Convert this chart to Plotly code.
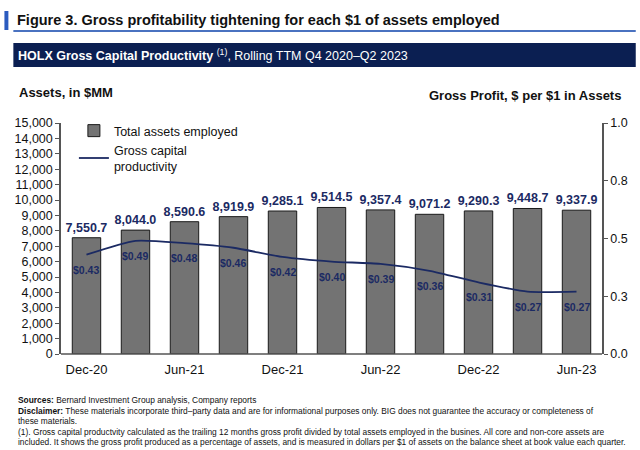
import plotly.graph_objects as go

categories = ["Dec-20", "Mar-21", "Jun-21", "Sep-21", "Dec-21", "Mar-22",
              "Jun-22", "Sep-22", "Dec-22", "Mar-23", "Jun-23"]
assets = [7550.7, 8044.0, 8590.6, 8919.9, 9285.1, 9514.5,
          9357.4, 9071.2, 9290.3, 9448.7, 9337.9]
productivity = [0.43, 0.49, 0.48, 0.46, 0.42, 0.40, 0.39, 0.36, 0.31, 0.27, 0.27]
x_tick_cats = ["Dec-20", "Jun-21", "Dec-21", "Jun-22", "Dec-22", "Jun-23"]
left_ticks = list(range(0, 15001, 1000))
right_tickvals = [0, 0.25, 0.5, 0.75, 1.0]
right_ticktext = ["0.0", "0.3", "0.5", "0.8", "1.0"]

W, H = 640, 450
L, R, T, B = 61, 606, 123, 354
NAVY = "#1B2A63"
FONT = "Liberation Sans, Arial, sans-serif"


def px(x):
    return (x - L) / (R - L)


def py(y):
    return (B - y) / (B - T)


fig = go.Figure()
fig.add_trace(go.Bar(
    x=categories, y=assets, name="Total assets employed",
    marker=dict(color="#737373", line=dict(color="#1a1a1a", width=1)),
    width=0.58,
    text=[f"{v:,.1f}" for v in assets], textposition="outside",
    constraintext="none",
    textfont=dict(color=NAVY, size=12.5, family=FONT, weight="bold"),
    cliponaxis=False,
))
fig.add_trace(go.Scatter(
    x=categories, y=productivity, name="Gross capital<br>productivity",
    yaxis="y2", mode="lines",
    line=dict(color=NAVY, width=1.8, shape="spline", smoothing=0.6),
))

shapes = [
    dict(type="rect", xref="paper", yref="paper", x0=px(4), x1=px(8), y0=py(30), y1=py(11),
         fillcolor="#2B5BBF", line=dict(width=0)),
    dict(type="line", xref="paper", yref="paper", x0=px(13), x1=px(640), y0=py(31), y1=py(31),
         line=dict(color="#4A72C0", width=2)),
    dict(type="rect", xref="paper", yref="paper", x0=px(13), x1=px(640), y0=py(67), y1=py(43),
         fillcolor="#0B1F52", line=dict(width=0)),
    dict(type="line", xref="paper", yref="paper", x0=0, x1=1, y0=0, y1=0,
         line=dict(color="#555", width=1.5)),
]

ann = [
    dict(text="<b>Figure 3. Gross profitability tightening for each $1 of assets employed</b>",
         x=px(15), y=py(20), xanchor="left", yanchor="middle", font=dict(size=14.5, color="#111")),
    dict(text="<b>HOLX Gross Capital Productivity</b> <sup>(1)</sup>, Rolling TTM Q4 2020\u2013Q2 2023",
         x=px(16), y=py(55), xanchor="left", yanchor="middle", font=dict(size=12.5, color="white")),
    dict(text="<b>Assets, in $MM</b>", x=px(17), y=py(93), xanchor="left", yanchor="middle",
         font=dict(size=13, color="#111")),
    dict(text="<b>Gross Profit, $ per $1 in Assets</b>", x=px(627), y=py(95), xanchor="right",
         yanchor="middle", font=dict(size=13, color="#111")),
]
footer = [
    (400, "<b>Sources:</b> Bernard Investment Group analysis, Company reports"),
    (411, "<b>Disclaimer:</b> These materials incorporate third\u2013party data and are for informational purposes only. BIG does not guarantee the accuracy or completeness of"),
    (421, "these materials."),
    (432, "(1). Gross capital productvity calculated as the trailing 12 months gross profit divided by total assets employed in the busines. All core and non-core assets are"),
    (442, "included. It shows the gross profit produced as a percentage of assets, and is measured in dollars per $1 of assets on the balance sheet at book value each quarter."),
]
for y, t in footer:
    ann.append(dict(text=t, x=px(16), y=py(y), xanchor="left", yanchor="middle",
                    font=dict(size=8.4, color="#111")))
for a in ann:
    a.update(xref="paper", yref="paper", showarrow=False)

for c, v in zip(categories, productivity):
    ann.append(dict(text=f"<b>${v:.2f}</b>", x=c, y=v, xref="x", yref="y2", showarrow=False,
                    yshift=-15, font=dict(size=10.5, color=NAVY)))

fig.update_layout(
    width=W, height=H,
    margin=dict(l=L, r=W - R, t=T, b=H - B),
    paper_bgcolor="white", plot_bgcolor="white",
    font=dict(family=FONT, color="#111", size=12),
    showlegend=True,
    legend=dict(x=px(74), y=py(116), xanchor="left", yanchor="top",
                font=dict(size=12.5, color="#111"), bgcolor="rgba(0,0,0,0)",
                itemwidth=30, tracegroupgap=2),
    bargap=0.42,
    xaxis=dict(tickmode="array", tickvals=x_tick_cats, ticktext=x_tick_cats,
               range=[-0.52, 10.52], showline=False, ticks="", showgrid=False,
               tickfont=dict(size=13), ticklabelstandoff=6),
    yaxis=dict(range=[0, 15000], tickvals=left_ticks, tickformat=",d",
               showline=True, linecolor="#555", linewidth=1.5, ticks="outside",
               ticklen=4, tickcolor="#555", showgrid=False, zeroline=False,
               tickfont=dict(size=12.5)),
    yaxis2=dict(range=[0, 1.0], overlaying="y", side="right",
                tickvals=right_tickvals, ticktext=right_ticktext,
                showline=True, linecolor="#555", linewidth=1.5, ticks="outside",
                ticklen=4, tickcolor="#555", showgrid=False, zeroline=False,
                tickfont=dict(size=12.5)),
    shapes=shapes,
    annotations=ann,
)

fig.write_html("out.html")
